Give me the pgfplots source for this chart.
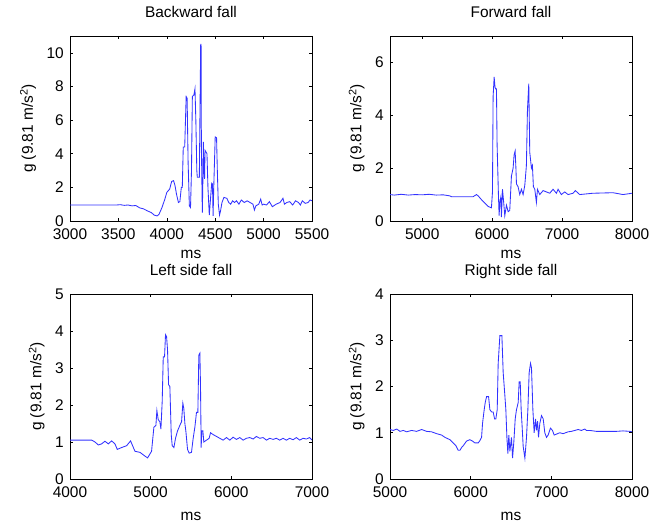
\documentclass[border=0pt]{standalone}
\usepackage{fontspec}
\setmainfont{Liberation Sans}
\usepackage{pgfplots}
\pgfplotsset{compat=1.18}
\definecolor{trace}{RGB}{50,50,255}

\pgfplotsset{
  matstyle/.style={
    scale only axis, width=242bp, height=185bp, anchor=south west,
    axis line style={line width=0.6bp, black},
    tick align=inside, tick pos=both,
    major tick length=3bp,
    every tick/.style={black, line width=0.6bp},
    tick label style={font=\fontsize{15.5}{18}\selectfont},
    /pgf/number format/assume math mode=true,
    /pgf/number format/1000 sep={},
    scaled ticks=false,
    xticklabel style={anchor=base, yshift=-18.5bp, inner sep=0pt},
    yticklabel style={anchor=east, xshift=-6bp, inner sep=0pt},
    label style={font=\fontsize{15.5}{18}\selectfont},
    title style={font=\fontsize{15.5}{18}\selectfont, anchor=base, at={(0.5,1)}, yshift=12.6bp},
    xlabel=ms,
    ylabel={g (9.81 m/s\textsuperscript{2})},
    ylabel style={at={(ticklabel cs:0.5,7bp)}},
    ymin=0,
  },
  toprow/.style={xlabel style={at={(0.5,0)}, anchor=base, yshift=-37.6bp}},
  botrow/.style={xlabel style={at={(0.5,0)}, anchor=base, yshift=-41.6bp}},
  sig/.style={trace, line width=0.85bp, mark=none},
}

\begin{document}
\begin{tikzpicture}[x=1bp,y=1bp]
\useasboundingbox (0,0) rectangle (661,524);

% ---------- Backward fall ----------
\begin{axis}[matstyle, toprow, at={(70bp,303bp)}, title={Backward fall},
  xmin=3000, xmax=5500, ymax=11,
  xtick={3000,3500,4000,4500,5000,5500}, ytick={0,2,4,6,8,10}]
\addplot[sig] coordinates {
(3000,0.95)(3480,0.95)(3520,0.97)(3560,0.93)(3600,0.95)(3640,0.90)(3680,0.92)
(3720,0.78)(3760,0.72)(3800,0.60)(3840,0.50)(3870,0.35)(3900,0.30)(3920,0.40)
(3950,0.80)(3980,1.30)(4000,1.70)(4030,1.90)(4050,2.35)(4070,2.40)(4085,2.10)
(4100,1.60)(4120,1.10)(4135,1.15)(4150,2.00)(4160,2.00)(4170,4.40)(4185,4.40)
(4200,7.40)(4210,7.30)(4220,3.50)(4233,0.90)(4245,0.80)(4255,3.00)(4264,7.40)
(4280,7.50)(4291,7.86)(4300,6.00)(4310,3.00)(4315,2.60)(4336,2.60)(4342,6.00)
(4350,10.5)(4354,10.5)(4357,4.70)(4362,2.50)(4367,0.50)(4373,2.50)(4378,4.70)
(4383,3.00)(4390,2.50)(4395,4.20)(4405,4.10)(4415,4.00)(4425,2.00)(4439,0.35)
(4450,1.20)(4464,2.25)(4472,2.20)(4478,0.30)(4486,2.20)(4500,5.00)(4514,4.95)
(4522,3.00)(4532,1.00)(4545,0.35)(4555,0.60)(4570,1.10)(4590,1.40)(4620,1.35)
(4640,1.10)(4660,1.00)(4680,1.20)(4700,1.10)(4720,1.20)(4745,1.00)(4770,1.25)
(4800,1.10)(4830,1.20)(4860,1.10)(4890,1.00)(4905,0.65)(4920,0.90)(4950,1.00)
(4970,1.30)(4985,0.95)(5000,1.00)(5030,0.95)(5060,1.15)(5090,0.85)(5130,1.00)
(5170,1.10)(5200,1.35)(5215,1.00)(5240,1.10)(5270,1.15)(5300,0.95)(5330,1.20)
(5360,1.10)(5380,0.95)(5400,1.20)(5430,1.05)(5460,1.10)(5480,1.25)(5500,1.20)
};
\end{axis}

% ---------- Forward fall ----------
\begin{axis}[matstyle, toprow, at={(390bp,303bp)}, title={Forward fall},
  xmin=4540, xmax=8000, ymax=7,
  xtick={5000,6000,7000,8000}, ytick={0,2,4,6}]
\addplot[sig] coordinates {
(4540,1.00)(4600,0.98)(4700,1.01)(4800,0.98)(4900,1.00)(5000,0.99)(5100,1.01)
(5200,0.98)(5300,0.99)(5395,0.95)(5420,0.92)(5600,0.92)(5729,0.92)(5776,1.00)
(5800,0.95)(5850,0.80)(5900,0.67)(5943,0.55)(5990,0.50)(6005,1.10)(6014,4.70)
(6029,5.45)(6040,5.10)(6048,5.00)(6062,5.00)(6071,2.90)(6090,1.00)(6100,0.20)
(6110,0.70)(6124,0.90)(6133,0.15)(6148,1.20)(6162,0.80)(6181,0.20)(6205,0.60)
(6229,0.35)(6252,0.40)(6276,1.70)(6300,2.00)(6314,2.50)(6329,2.65)(6340,2.00)
(6348,1.40)(6371,1.30)(6395,1.00)(6419,1.20)(6443,1.00)(6467,1.35)(6490,2.10)
(6505,4.20)(6524,5.20)(6538,2.60)(6562,2.00)(6576,2.10)(6590,1.30)(6610,1.20)
(6633,0.70)(6648,1.20)(6681,1.00)(6729,1.15)(6776,1.10)(6824,1.05)(6871,1.20)
(6919,1.05)(6943,1.20)(6990,1.00)(7038,1.10)(7086,1.00)(7157,1.05)(7190,1.15)
(7252,1.00)(7443,1.05)(7729,1.07)(7871,1.00)(8000,1.05)
};
\end{axis}

% ---------- Left side fall ----------
\begin{axis}[matstyle, botrow, at={(70bp,45bp)}, title={Left side fall},
  xmin=4000, xmax=7000, ymax=5,
  xtick={4000,5000,6000,7000}, ytick={0,1,2,3,4,5}]
\addplot[sig] coordinates {
(4000,1.05)(4270,1.05)(4310,1.00)(4351,0.92)(4392,0.95)(4433,1.02)(4475,0.95)
(4516,1.03)(4557,0.95)(4586,0.80)(4640,0.85)(4702,0.90)(4751,1.03)(4805,0.75)
(4867,0.72)(4929,0.62)(4962,0.57)(5011,0.75)(5040,1.40)(5065,1.45)(5077,1.85)
(5094,1.60)(5114,1.55)(5127,1.35)(5143,2.10)(5156,3.30)(5172,3.30)(5184,3.90)
(5197,3.85)(5209,3.50)(5222,2.55)(5238,2.50)(5255,1.20)(5267,0.90)(5288,0.85)
(5308,1.10)(5333,1.30)(5362,1.45)(5383,1.55)(5399,2.05)(5411,1.90)(5424,1.50)
(5436,1.30)(5457,0.80)(5477,0.70)(5506,0.72)(5527,1.10)(5548,1.40)(5568,1.80)
(5585,1.80)(5597,3.35)(5610,3.40)(5618,2.50)(5626,0.85)(5634,1.30)(5647,1.30)
(5659,1.00)(5692,1.05)(5725,1.10)(5742,1.25)(5775,1.20)(5816,1.15)(5857,1.10)
(5898,1.05)(5940,1.12)(5981,1.05)(6022,1.13)(6063,1.07)(6105,1.12)(6146,1.05)
(6187,1.10)(6229,1.12)(6270,1.08)(6311,1.15)(6352,1.10)(6394,1.12)(6435,1.05)
(6476,1.10)(6518,1.07)(6559,1.10)(6600,1.05)(6641,1.10)(6682,1.05)(6724,1.10)
(6765,1.06)(6806,1.12)(6848,1.05)(6889,1.10)(6930,1.08)(6971,1.12)(7000,1.05)
};
\end{axis}

% ---------- Right side fall ----------
\begin{axis}[matstyle, botrow, at={(390bp,45bp)}, title={Right side fall},
  xmin=5000, xmax=8000, ymax=4,
  xtick={5000,6000,7000,8000}, ytick={0,1,2,3,4}]
\addplot[sig] coordinates {
(5000,1.07)(5041,1.05)(5083,1.08)(5124,1.03)(5165,1.05)(5206,1.02)(5268,1.05)
(5330,1.03)(5392,1.07)(5454,1.03)(5516,1.02)(5578,0.98)(5640,0.95)(5681,0.90)
(5743,0.85)(5784,0.78)(5817,0.72)(5846,0.62)(5867,0.62)(5887,0.68)(5908,0.72)
(5949,0.82)(5990,0.85)(6023,0.82)(6052,0.78)(6094,0.78)(6114,0.83)(6135,0.90)
(6147,1.20)(6164,1.45)(6180,1.65)(6197,1.78)(6222,1.78)(6238,1.50)(6259,1.45)
(6279,1.45)(6296,1.30)(6312,1.30)(6329,1.50)(6341,2.50)(6362,3.10)(6387,3.10)
(6403,2.30)(6424,1.80)(6436,1.50)(6449,0.90)(6461,0.55)(6473,0.95)(6486,0.60)
(6506,0.90)(6519,0.45)(6535,0.80)(6552,1.30)(6568,1.50)(6589,1.65)(6601,2.10)
(6614,2.10)(6626,1.50)(6639,1.10)(6651,0.70)(6672,0.45)(6692,0.90)(6709,1.50)
(6725,2.30)(6742,2.50)(6754,2.40)(6771,1.50)(6787,1.00)(6804,1.30)(6816,1.05)
(6829,1.25)(6841,0.90)(6857,1.20)(6878,1.37)(6899,1.30)(6919,1.00)(6940,0.90)
(6960,0.95)(6989,1.10)(7014,1.05)(7035,0.95)(7063,0.97)(7105,1.00)(7146,0.98)
(7208,1.02)(7249,1.03)(7291,1.05)(7332,1.07)(7373,1.05)(7414,1.08)(7435,1.05)
(7476,1.05)(7559,1.03)(7683,1.03)(7806,1.03)(7889,1.04)(7972,1.03)(8000,1.02)
};
\end{axis}
\end{tikzpicture}
\end{document}
